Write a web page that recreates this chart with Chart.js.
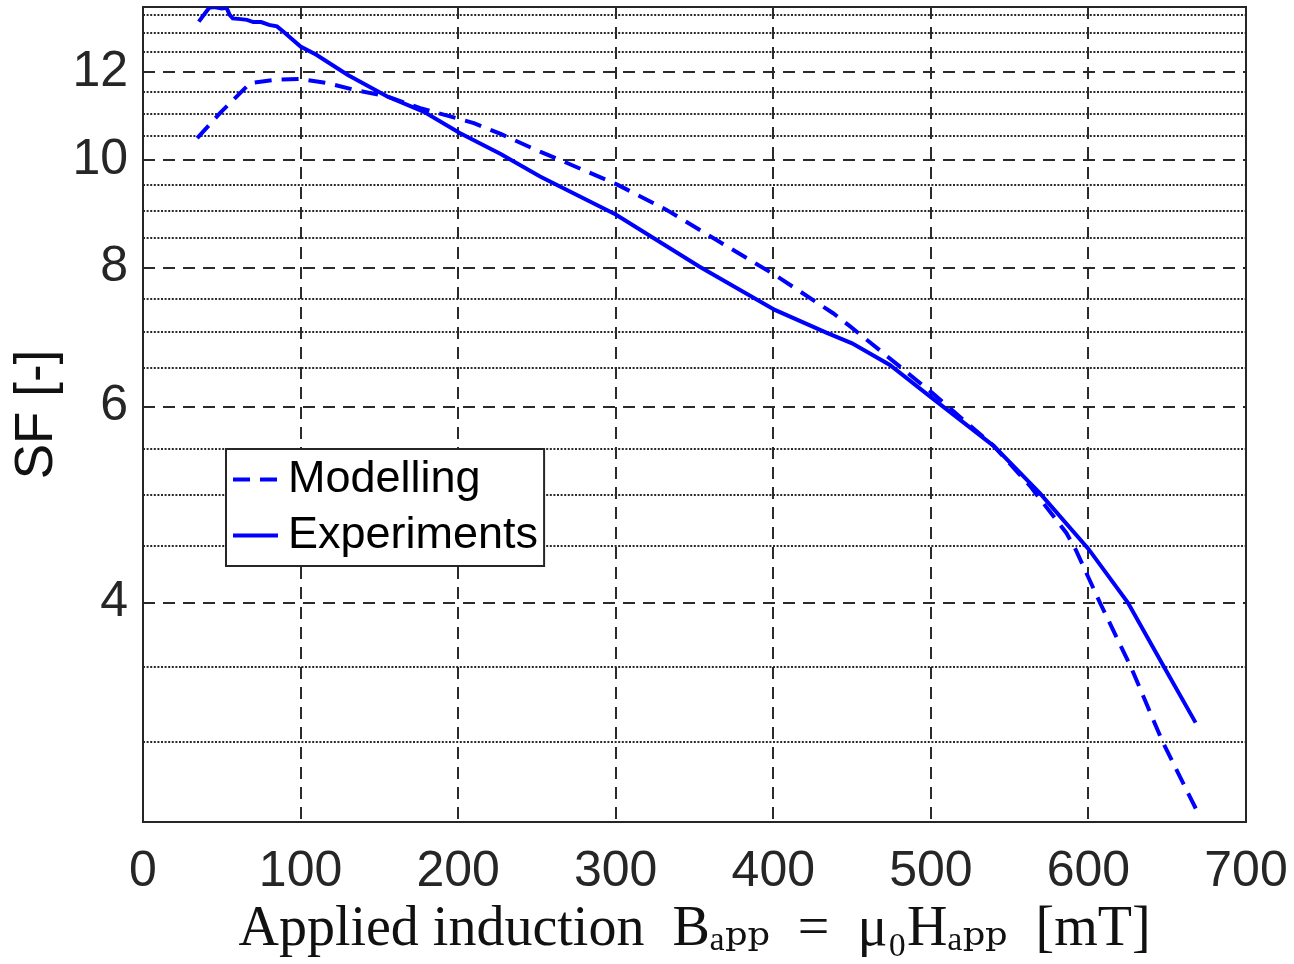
<!doctype html>
<html lang="en">
<head>
<meta charset="utf-8">
<title>SF vs applied induction</title>
<script src="https://cdn.jsdelivr.net/npm/chart.js@4.4.1/dist/chart.umd.min.js"></script>
<style>
    html, body { margin: 0; padding: 0; background: #fff; }
</style>
</head>
<body>
<canvas id="chart" width="1294" height="964"></canvas>

<script>
    // values
    const modelField = [34.4, 49, 68, 83, 100, 117, 134, 155, 176, 210, 227, 252, 263, 301, 332, 364, 401, 438, 449, 470, 501, 540, 563, 586, 592, 608, 627, 647, 670];
    const modelSF    = [10.46, 11.02, 11.72, 11.80, 11.82, 11.72, 11.56, 11.40, 11.13, 10.79, 10.55, 10.17, 10.02, 9.50, 9.02, 8.47, 7.88, 7.28, 7.08, 6.70, 6.17, 5.53, 5.09, 4.62, 4.46, 3.98, 3.50, 3.00, 2.58];

    const expField = [35.4, 42, 45, 50, 53, 55, 57, 62, 66, 70, 75, 80, 85, 89, 100, 110, 130, 155, 178, 201, 227, 252, 300, 353, 401, 434, 450, 474, 500, 540, 569, 600, 625, 648, 668];
    const expSF    = [13.31, 13.70, 13.72, 13.68, 13.70, 13.50, 13.40, 13.38, 13.36, 13.30, 13.30, 13.22, 13.18, 13.04, 12.64, 12.43, 11.92, 11.40, 11.05, 10.57, 10.12, 9.66, 8.93, 8.02, 7.33, 6.99, 6.84, 6.54, 6.12, 5.53, 5.02, 4.47, 4.00, 3.50, 3.12];

    const xTickValues = [0, 100, 200, 300, 400, 500, 600, 700];
    const yGridValues = [3, 3.5, 4, 4.5, 5, 5.5, 6, 6.5, 7, 7.5, 8, 8.5, 9, 9.5, 10, 10.5, 11, 11.5, 12, 12.5, 13, 13.5];
    const yLabelValues = [4, 6, 8, 10, 12];

    const sans = "'Liberation Sans', Arial, Helvetica, sans-serif";
    const serif = "'Liberation Serif', 'DejaVu Serif', 'Times New Roman', serif";
    const axisColor = '#262626';
    const gridColor = '#2a2a2a';
    const lineBlue = '#0000ff';

    // no overflow padding from the tick labels, the plot box is placed by hand
    const noOverflow = scale => {
        scale.paddingTop = 0;
        scale.paddingBottom = 0;
        scale.paddingLeft = 0;
        scale.paddingRight = 0;
    };

    // MATLAB style box around the axes
    const frame = {
        id: 'frame',
        beforeDatasetsDraw(chart) {
            const {ctx, chartArea: a} = chart;
            ctx.save();
            ctx.strokeStyle = axisColor;
            ctx.lineWidth = 2;
            ctx.strokeRect(a.left, a.top, a.right - a.left, a.bottom - a.top);
            ctx.restore();
        }
    };

    // boxed legend inside the plot
    const boxLegend = {
        id: 'boxLegend',
        afterDatasetsDraw(chart, args, opts) {
            const {ctx, chartArea} = chart;
            const sets = chart.data.datasets;
            ctx.save();
            ctx.font = opts.font;
            const x0 = chartArea.left + opts.left;
            const y0 = chartArea.top + opts.top;
            const textW = Math.max(...sets.map(d => ctx.measureText(d.label).width));
            const w = opts.padLeft + opts.lineLen + opts.gap + textW + opts.padRight;
            const h = opts.rowH * sets.length + opts.padY * 2;
            ctx.fillStyle = '#fff';
            ctx.fillRect(x0, y0, w, h);
            ctx.lineWidth = 2;
            ctx.strokeStyle = axisColor;
            ctx.strokeRect(x0, y0, w, h);
            sets.forEach((ds, i) => {
                const cy = y0 + opts.padY + opts.rowH * (i + 0.5);
                ctx.strokeStyle = ds.borderColor;
                ctx.lineWidth = ds.borderWidth;
                ctx.setLineDash(ds.borderDash || []);
                ctx.beginPath();
                ctx.moveTo(x0 + opts.padLeft, cy);
                ctx.lineTo(x0 + opts.padLeft + opts.lineLen, cy);
                ctx.stroke();
                ctx.setLineDash([]);
                ctx.fillStyle = '#000';
                ctx.textBaseline = 'middle';
                ctx.textAlign = 'left';
                ctx.fillText(ds.label, x0 + opts.padLeft + opts.lineLen + opts.gap, cy);
            });
            ctx.restore();
        }
    };

    const toPoints = (xs, ys) => xs.map((x, i) => ({x: x, y: ys[i]}));

    new Chart(document.getElementById('chart'), {
        type: 'line',
        data: {
            datasets: [
                {
                    label: 'Modelling',
                    data: toPoints(modelField, modelSF),
                    borderColor: lineBlue,
                    borderWidth: 4,
                    borderDash: [17, 10],
                    pointRadius: 0,
                    tension: 0,
                },
                {
                    label: 'Experiments',
                    data: toPoints(expField, expSF),
                    borderColor: lineBlue,
                    borderWidth: 4,
                    pointRadius: 0,
                    tension: 0,
                },
            ],
        },
        options: {
            responsive: false,
            animation: false,
            devicePixelRatio: 1,
            layout: {padding: {top: 7, right: 48, left: 0, bottom: 0}},
            plugins: {
                legend: {display: false},
                tooltip: {enabled: false},
                boxLegend: {
                    font: '45px ' + sans,
                    left: 83, top: 442,
                    padLeft: 7, lineLen: 45, gap: 10, padRight: 6,
                    rowH: 56, padY: 2.5,
                },
            },
            scales: {
                x: {
                    type: 'linear',
                    min: 0,
                    max: 700,
                    afterBuildTicks: scale => {
                        scale.ticks = xTickValues.map(v => ({value: v}));
                    },
                    afterFit: scale => {
                        scale.height = 142;
                        noOverflow(scale);
                    },
                    ticks: {
                        autoSkip: false,
                        maxRotation: 0,
                        padding: 20,
                        color: axisColor,
                        font: {family: sans, size: 50},
                    },
                    grid: {color: gridColor, lineWidth: 2, drawTicks: false},
                    border: {display: false, dash: [12, 8]},
                    title: {
                        display: true,
                        text: 'Applied induction  Bₐₚₚ  =  μ₀Hₐₚₚ  [mT]',
                        color: '#111',
                        font: {family: serif, size: 56},
                        padding: {top: 0, bottom: 0},
                    },
                },
                y: {
                    type: 'logarithmic',
                    min: 2.54,
                    max: 13.72,
                    afterBuildTicks: scale => {
                        scale.ticks = yGridValues.map(v => ({value: v}));
                    },
                    afterFit: scale => {
                        scale.width = 143;
                        noOverflow(scale);
                    },
                    ticks: {
                        autoSkip: false,
                        padding: 15,
                        color: axisColor,
                        font: {family: sans, size: 50},
                        callback: v => yLabelValues.includes(v) ? String(v) : '',
                    },
                    grid: {color: gridColor, lineWidth: 2, drawTicks: false},
                    border: {
                        display: false,
                        dash: ctx => (ctx.tick && yLabelValues.includes(ctx.tick.value)) ? [12, 8] : [2, 1.6],
                    },
                    title: {
                        display: true,
                        text: 'SF [-]',
                        color: '#111',
                        font: {family: sans, size: 53},
                        padding: {top: 6, bottom: 0},
                    },
                },
            },
        },
        plugins: [frame, boxLegend],
    });
</script>
</body>
</html>
